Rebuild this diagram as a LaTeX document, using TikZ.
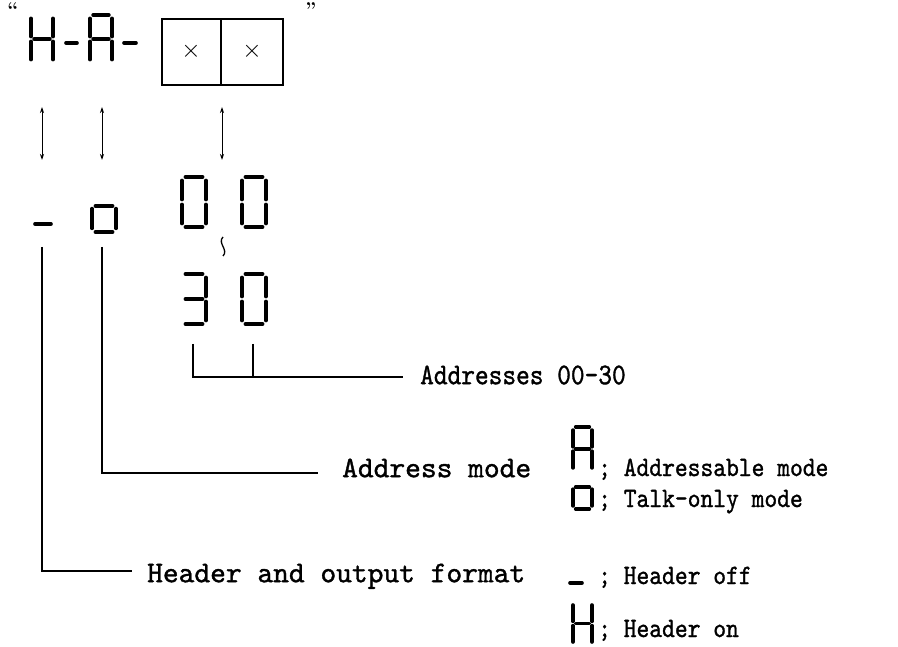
\documentclass[tikz,border=0pt]{standalone}
\usepackage{fontspec}
\newfontfamily\lblfont[FakeBold=1.2]{lmmono10-regular.otf}
\usetikzlibrary{arrows.meta}

% segments of a seven-segment digit, unit box, y pointing down
\def\sga{(0.14,0)--(0.86,0)}
\def\sgb{(1,0.07)--(1,0.45)}
\def\sgc{(1,0.55)--(1,0.93)}
\def\sgd{(0.14,1)--(0.86,1)}
\def\sge{(0,0.55)--(0,0.93)}
\def\sgf{(0,0.07)--(0,0.45)}
\def\sgg{(0.14,0.5)--(0.86,0.5)}
% \segdigit{x}{y}{width}{height}{segments}
\newcommand{\segdigit}[5]{%
  \begin{scope}[shift={(#1,#2)}, xscale=#3, yscale=#4]
    \foreach \s in {#5} {\draw[seg] \csname sg\s\endcsname;}
  \end{scope}}
\newcommand{\narrow}[1]{\scalebox{0.87}[1]{#1}}

\tikzset{
  seg/.style={line width=3.6pt, line cap=round},
  lbl/.style={font=\fontsize{30}{36}\lblfont, inner sep=0pt, anchor=west},
  legend/.style={lbl, font=\fontsize{28}{34}\lblfont, anchor=base west},
  wire/.style={line width=1.3pt},
  dbl/.style={line width=1pt, {Stealth[length=6pt,width=4pt]}-{Stealth[length=6pt,width=4pt]}}
}

\begin{document}
\begin{tikzpicture}[x=1pt, y=-1pt]
  \useasboundingbox (0,0) rectangle (898,647);
  % ---- top row: "H-A-xx" ----
  \node[font=\fontsize{20}{20}\bfseries] (qopen) at (13,10) {``};
  \node[font=\fontsize{20}{20}\bfseries] (qclose) at (311,10) {''};
  \segdigit{31}{15}{22}{48}{b,c,e,f,g}
  \draw[seg] (66,43) -- (77,43);
  \segdigit{90}{15}{22}{48}{a,b,c,e,f,g}
  \draw[seg] (124,43) -- (136,43);
  \draw[wire] (162,19) rectangle (283,85);
  \draw[wire] (221,19) -- (221,85);
  \node[font=\fontsize{40}{40}\selectfont] (xa) at (191,51) {$\times$};
  \node[font=\fontsize{40}{40}\selectfont] (xb) at (252,51) {$\times$};
  % ---- arrows ----
  \coordinate (hT) at (42,107);  \coordinate (hB) at (42,160);
  \coordinate (aT) at (102,107); \coordinate (aB) at (102,160);
  \coordinate (xT) at (222,107); \coordinate (xB) at (222,160);
  \draw[dbl] (hT) -- (hB);
  \draw[dbl] (aT) -- (aB);
  \draw[dbl] (xT) -- (xB);
  % ---- second row: settings ----
  \draw[seg] (35,224) -- (51,224);
  \segdigit{92}{180}{24}{52}{c,d,e,g}
  \segdigit{182}{177}{24}{50}{a,b,c,d,e,f}
  \segdigit{242}{177}{24}{50}{a,b,c,d,e,f}
  \draw[line width=1.3pt] (223,237) .. controls (217,243) and (229,250) .. (223,256);
  \segdigit{182}{274}{24}{50}{a,b,c,d,g}
  \segdigit{242}{274}{24}{50}{a,b,c,d,e,f}
  % ---- labels ----
  \node[lbl] (addr) at (420,377) {\strut\narrow{Addresses 00-30}};
  \node[lbl] (mode) at (342,470) {\strut Address mode};
  \node[lbl] (hdr) at (147,575) {\strut Header and output format};
  \coordinate (dA) at (193,344);
  \coordinate (dB) at (253,344);
  \coordinate (mTop) at (102,247);
  \coordinate (hTop) at (42,247);
  \draw[wire] (dA) |- ([xshift=-17pt]addr.west);
  \draw[wire] (dB) -- (dB |- addr.west);
  \draw[wire] (mTop) |- ([xshift=-24pt,yshift=-3pt]mode.west);
  \draw[wire] (hTop) |- ([xshift=-15pt,yshift=4pt]hdr.west);
  % ---- legend ----
  \segdigit{573}{427}{19}{44}{a,b,c,e,f,g}
  \node[legend] (lA) at (598,476) {\narrow{; Addressable mode}};
  \segdigit{573}{465}{19}{44}{c,d,e,g}
  \node[legend] (lO) at (598,507) {\narrow{; Talk-only mode}};
  \draw[seg] (570,583) -- (582,583);
  \node[legend] (lOff) at (598,584) {\narrow{; Header off}};
  \segdigit{573}{602}{19}{43}{b,c,e,f,g}
  \node[legend] (lOn) at (598,637) {\narrow{; Header on}};
\end{tikzpicture}
\end{document}
